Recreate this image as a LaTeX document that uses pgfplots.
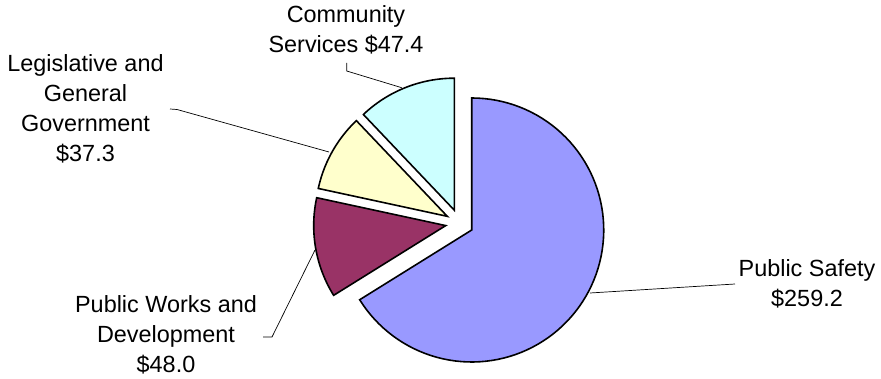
\documentclass[border=0pt]{standalone}
\usepackage{pgfplots}
\pgfplotsset{compat=1.18}
\usepackage{pgfplotstable}
\usepackage{fontspec}
\setmainfont{Liberation Sans}

\definecolor{cPS}{HTML}{9999FF}
\definecolor{cPW}{HTML}{993366}
\definecolor{cLG}{HTML}{FFFFCC}
\definecolor{cCS}{HTML}{CCFFFF}

\tikzset{
  slice/.style={draw=black, line width=1.6bp, line join=miter, samples=90, variable=\t},
  leader/.style={draw=black, line width=0.7bp, mark=none},
  lab/.style={font=\fontsize{23.5}{30}\selectfont, align=center, inner sep=0pt, anchor=center},
}

\pgfplotstableread{
label value
PS 259.2
PW 48.0
LG 37.3
CS 47.4
}\budget

\pgfplotstablegetelem{0}{value}\of\budget \let\vA\pgfplotsretval
\pgfplotstablegetelem{1}{value}\of\budget \let\vB\pgfplotsretval
\pgfplotstablegetelem{2}{value}\of\budget \let\vC\pgfplotsretval
\pgfplotstablegetelem{3}{value}\of\budget \let\vD\pgfplotsretval

% geometry (1 unit = 1 bp)
\def\cx{459.5}\def\cy{155.8}\def\R{132}\def\ex{14}
\pgfmathsetmacro\T{\vA+\vB+\vC+\vD}
% angles: start at 12 o'clock, clockwise
\pgfmathsetmacro\aAe{90}
\pgfmathsetmacro\aAs{90-(\vA/\T)*360}
\pgfmathsetmacro\aBe{\aAs+360}
\pgfmathsetmacro\aBs{\aBe-(\vB/\T)*360}
\pgfmathsetmacro\aCe{\aBs}
\pgfmathsetmacro\aCs{\aCe-(\vC/\T)*360}
\pgfmathsetmacro\aDe{\aCs}
\pgfmathsetmacro\aDs{\aDe-(\vD/\T)*360}
% exploded centres
\pgfmathsetmacro\xA{\cx+\ex*cos((\aAs+\aAe)/2)}\pgfmathsetmacro\yA{\cy+\ex*sin((\aAs+\aAe)/2)}
\pgfmathsetmacro\xB{\cx+\ex*cos((\aBs+\aBe)/2)}\pgfmathsetmacro\yB{\cy+\ex*sin((\aBs+\aBe)/2)}
\pgfmathsetmacro\xC{\cx+\ex*cos((\aCs+\aCe)/2)}\pgfmathsetmacro\yC{\cy+\ex*sin((\aCs+\aCe)/2)}
\pgfmathsetmacro\xD{\cx+\ex*cos((\aDs+\aDe)/2)}\pgfmathsetmacro\yD{\cy+\ex*sin((\aDs+\aDe)/2)}

\begin{document}
\begin{tikzpicture}
\begin{axis}[
  width=881bp, height=379bp, scale only axis,
  xmin=0, xmax=881, ymin=0, ymax=379,
  enlargelimits=false, hide axis, clip=false,
]
\addplot[draw=none, mark=none] coordinates {(0,0) (881,379)};
% slices
\addplot[slice, fill=cPS, domain=\aAs:\aAe] ({\xA+\R*cos(t)},{\yA+\R*sin(t)}) -- (axis cs:\xA,\yA) -- cycle;
\addplot[slice, fill=cPW, domain=\aBs:\aBe] ({\xB+\R*cos(t)},{\yB+\R*sin(t)}) -- (axis cs:\xB,\yB) -- cycle;
\addplot[slice, fill=cLG, domain=\aCs:\aCe] ({\xC+\R*cos(t)},{\yC+\R*sin(t)}) -- (axis cs:\xC,\yC) -- cycle;
\addplot[slice, fill=cCS, domain=\aDs:\aDe] ({\xD+\R*cos(t)},{\yD+\R*sin(t)}) -- (axis cs:\xD,\yD) -- cycle;
% leader lines
\addplot[leader] coordinates {(346.7,316) (346.7,308) (401.7,291.3)};
\addplot[leader] coordinates {(170,270) (177,269.5) (329,227)};
\addplot[leader] coordinates {(263,42) (272,42) (315,129)};
\addplot[leader] coordinates {(735,95) (590,86)};
% labels
\node[lab] at (axis cs:346,349) {Community\\Services \$47.4};
\node[lab] at (axis cs:85.5,270) {Legislative and\\General\\Government\\\$37.3};
\node[lab] at (axis cs:166,44) {Public Works and\\Development\\\$48.0};
\node[lab] at (axis cs:807,95) {Public Safety\\\$259.2};
\end{axis}
\end{tikzpicture}
\end{document}
